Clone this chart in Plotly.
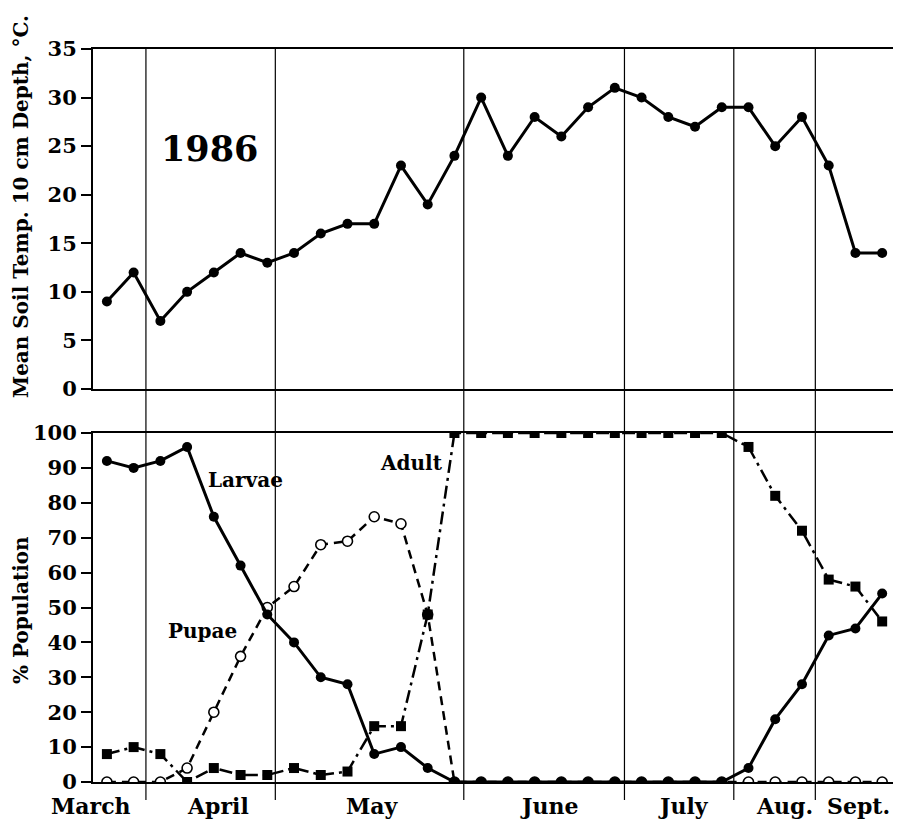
import plotly.graph_objects as go

# ---- data ----
sample_index = list(range(30))
soil_temp = [9, 12, 7, 10, 12, 14, 13, 14, 16, 17, 17, 23, 19, 24, 30,
             24, 28, 26, 29, 31, 30, 28, 27, 29, 29, 25, 28, 23, 14, 14]
larvae = [92, 90, 92, 96, 76, 62, 48, 40, 30, 28, 8, 10, 4, 0, 0,
          0, 0, 0, 0, 0, 0, 0, 0, 0, 4, 18, 28, 42, 44, 54]
pupae = [0, 0, 0, 4, 20, 36, 50, 56, 68, 69, 76, 74, 48, 0, 0,
         0, 0, 0, 0, 0, 0, 0, 0, 0, 0, 0, 0, 0, 0, 0]
adult = [8, 10, 8, 0, 4, 2, 2, 4, 2, 3, 16, 16, 48, 100, 100,
         100, 100, 100, 100, 100, 100, 100, 100, 100, 96, 82, 72, 58, 56, 46]
month_boundaries = [1.46, 6.3, 13.35, 19.36, 23.45, 26.5]
month_labels = ["March", "April", "May", "June", "July", "Aug.", "Sept."]
month_label_pos = [-0.6, 4.16, 9.92, 16.54, 21.55, 25.33, 28.12]
temp_ticks = [0, 5, 10, 15, 20, 25, 30, 35]
pop_ticks = [0, 10, 20, 30, 40, 50, 60, 70, 80, 90, 100]

FONT = "DejaVu Serif"
OFF = 8  # page body margin
W, H = 901 - OFF, 821 - OFF
L, T = 93 - OFF, 49 - OFF
R = W - (895 - OFF)
B = H - (782 - OFF)
PW = W - L - R
PH = H - T - B
X0, X1 = -0.52, 29.48


def py(pix):  # page pixel y -> paper
    return (H - B - (pix - OFF)) / PH


def pxp(pix):  # page pixel x -> paper
    return ((pix - OFF) - L) / PW


fig = go.Figure()

fig.add_trace(go.Scatter(
    x=sample_index, y=soil_temp, xaxis="x", yaxis="y", mode="lines+markers",
    line=dict(color="black", width=3), marker=dict(color="black", size=10),
    showlegend=False))

fig.add_trace(go.Scatter(
    x=sample_index, y=pupae, xaxis="x2", yaxis="y2", mode="lines+markers",
    line=dict(color="black", width=2.5, dash="9px,6px"),
    marker=dict(symbol="circle", color="white", size=10,
                line=dict(color="black", width=1.6)),
    showlegend=False))

fig.add_trace(go.Scatter(
    x=sample_index, y=adult, xaxis="x2", yaxis="y2", mode="lines+markers",
    line=dict(color="black", width=2.5, dash="13px,5px,3px,5px"),
    marker=dict(symbol="square", color="black", size=10),
    showlegend=False))

fig.add_trace(go.Scatter(
    x=sample_index, y=larvae, xaxis="x2", yaxis="y2", mode="lines+markers",
    line=dict(color="black", width=3), marker=dict(color="black", size=10),
    showlegend=False))

shapes = []
for b in month_boundaries:
    shapes.append(dict(type="line", xref="x", yref="paper", x0=b, x1=b,
                       y0=py(800), y1=1, line=dict(color="black", width=1.2)))

axis_common = dict(showline=True, linecolor="black", linewidth=2, mirror=True,
                   showgrid=False, zeroline=False, automargin=False)

tickfont = dict(family=FONT, size=21, weight="bold")

fig.update_layout(
    width=W, height=H,
    margin=dict(l=L, r=R, t=T, b=B),
    plot_bgcolor="white", paper_bgcolor="white",
    font=dict(family=FONT, color="black"),
    shapes=shapes,
    xaxis=dict(domain=[0, 1], range=[X0, X1], anchor="y",
               showticklabels=False, ticks="", **axis_common),
    yaxis=dict(domain=[py(389), 1], range=[0, 35], anchor="x",
               tickvals=temp_ticks, ticks="outside", ticklen=10, tickwidth=2,
               tickcolor="black", tickfont=tickfont, **axis_common),
    xaxis2=dict(domain=[0, 1], range=[X0, X1], anchor="y2",
                showticklabels=False, ticks="", **axis_common),
    yaxis2=dict(domain=[0, py(433)], range=[0, 100], anchor="x2",
                tickvals=pop_ticks, ticks="outside", ticklen=10, tickwidth=2,
                tickcolor="black", tickfont=tickfont, **axis_common),
)

label_font = dict(family=FONT, size=20, weight="bold")
annotations = [
    dict(text="1986", x=3.82, y=24.8, xref="x", yref="y", showarrow=False,
         font=dict(family=FONT, size=35, weight="bold")),
    dict(text="Larvae", x=5.17, y=86.5, xref="x2", yref="y2", showarrow=False,
         font=label_font),
    dict(text="Pupae", x=3.56, y=43.3, xref="x2", yref="y2", showarrow=False,
         font=label_font),
    dict(text="Adult", x=11.38, y=91.4, xref="x2", yref="y2", showarrow=False,
         font=label_font),
    dict(text="Mean Soil Temp. 10 cm Depth, °C.", textangle=-90,
         x=pxp(21), xref="paper", y=py(207), yref="paper",
         showarrow=False, xanchor="center", yanchor="middle",
         font=dict(family=FONT, size=20, weight="bold")),
    dict(text="% Population", textangle=-90,
         x=pxp(21), xref="paper", y=py(610), yref="paper",
         showarrow=False, xanchor="center", yanchor="middle",
         font=dict(family=FONT, size=20, weight="bold")),
]
for lab, pos in zip(month_labels, month_label_pos):
    # month label positions given in sample-index units, placed via paper coords
    annotations.append(dict(text=lab, x=(pos - X0) / (X1 - X0), xref="paper",
                            y=py(806), yref="paper",
                            showarrow=False, xanchor="center", yanchor="middle",
                            font=dict(family=FONT, size=22, weight="bold")))
fig.update_layout(annotations=annotations)

fig.write_html("out.html")
